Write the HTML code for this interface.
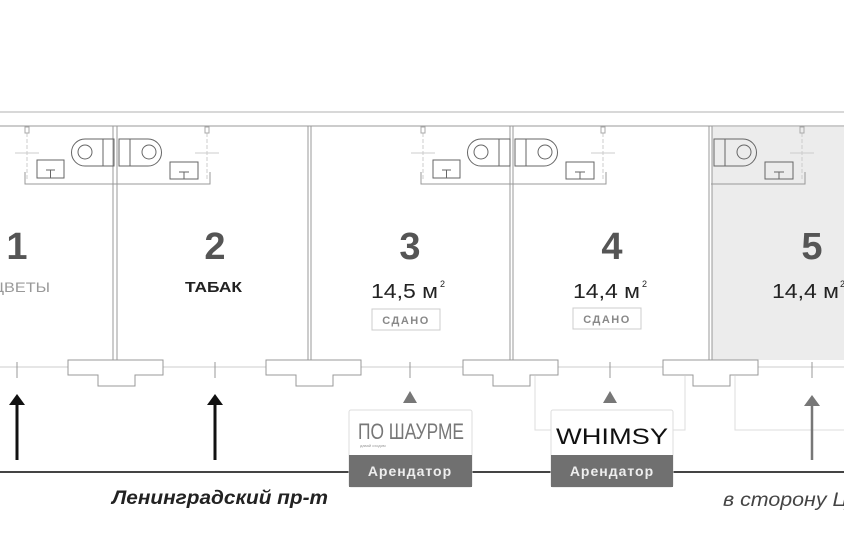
<!DOCTYPE html>
<html><head><meta charset="utf-8"><style>
html,body{margin:0;padding:0;background:#fff;}
svg{display:block;font-family:"Liberation Sans",sans-serif;}
</style></head><body>
<svg width="844" height="553" viewBox="0 0 844 553" xmlns="http://www.w3.org/2000/svg">
<defs>
<g id="fix" fill="none" stroke="#666" stroke-width="1">
  <line x1="-88" y1="133" x2="-88" y2="180" stroke="#ccc" stroke-dasharray="4 2"/>
  <line x1="92" y1="133" x2="92" y2="180" stroke="#ccc" stroke-dasharray="4 2"/>
  <rect x="-90" y="127" width="4" height="6" stroke="#aaa"/>
  <rect x="90" y="127" width="4" height="6" stroke="#aaa"/>
  <line x1="-100" y1="153" x2="-76" y2="153" stroke="#ccc"/>
  <line x1="80" y1="153" x2="104" y2="153" stroke="#ccc"/>
  <path d="M-1 139 H-30 A13 13 0 0 0 -30 166 H-1 Z"/>
  <line x1="-12" y1="139" x2="-12" y2="166"/>
  <circle cx="-30" cy="152" r="7"/>
  <path d="M4 139 H33 A13 13 0 0 1 33 166 H4 Z"/>
  <line x1="15" y1="139" x2="15" y2="166"/>
  <circle cx="34" cy="152" r="7"/>
  <rect x="-78" y="160" width="27" height="18"/>
  <path d="M-69 170 H-60 M-64.5 170 V178"/>
  <rect x="55" y="162" width="28" height="17"/>
  <path d="M64 172 H74 M69 172 V179"/>
  <path d="M-90 172 V184 H95 V172" stroke="#999"/>
</g>
<g id="door" fill="#fff" stroke="#999" stroke-width="1">
  <path d="M-47 360 H48 V375 H20 V386 H-17 V375 H-47 Z"/>
</g>
<clipPath id="c5"><rect x="711" y="0" width="133" height="553"/></clipPath>
</defs>
<line x1="0" y1="112" x2="844" y2="112" stroke="#ccc" stroke-width="1.5"/>
<rect x="712" y="127" width="132" height="233" fill="#ececec"/>
<line x1="0" y1="126" x2="844" y2="126" stroke="#999" stroke-width="1"/>
<g stroke="#999" stroke-width="1">
  <line x1="113" y1="126" x2="113" y2="362"/><line x1="117" y1="126" x2="117" y2="362"/>
  <line x1="308" y1="126" x2="308" y2="362"/><line x1="311" y1="126" x2="311" y2="362"/>
  <line x1="510" y1="126" x2="510" y2="362"/><line x1="513" y1="126" x2="513" y2="362"/>
  <line x1="709" y1="126" x2="709" y2="362"/><line x1="712" y1="126" x2="712" y2="362"/>
</g>
<use href="#fix" x="115" y="0"/>
<use href="#fix" x="511" y="0"/>
<g clip-path="url(#c5)"><use href="#fix" x="710" y="0"/></g>
<line x1="0" y1="367" x2="844" y2="367" stroke="#ccc" stroke-width="1"/>
<path d="M535 376 V430 H685 V376" fill="none" stroke="#ddd"/>
<path d="M735 376 V430 H844" fill="none" stroke="#ddd"/>
<use href="#door" x="115"/><use href="#door" x="313"/><use href="#door" x="510"/><use href="#door" x="710"/>
<g stroke="#999"><line x1="17" y1="362" x2="17" y2="378"/><line x1="215" y1="362" x2="215" y2="378"/><line x1="410" y1="362" x2="410" y2="378"/><line x1="610" y1="362" x2="610" y2="378"/><line x1="812" y1="362" x2="812" y2="378"/></g>
<g fill="#111" stroke="#111">
  <line x1="17" y1="403" x2="17" y2="460" stroke-width="3"/><path d="M9 405 L17 394 L25 405 Z" stroke="none"/>
  <line x1="215" y1="403" x2="215" y2="460" stroke-width="3"/><path d="M207 405 L215 394 L223 405 Z" stroke="none"/>
</g>
<g fill="#777" stroke="#777">
  <line x1="812" y1="403" x2="812" y2="460" stroke-width="2.5"/><path d="M804 406 L812 395 L820 406 Z" stroke="none"/>
  <path d="M403 403 L410 391 L417 403 Z" stroke="none"/>
  <path d="M603 403 L610 391 L617 403 Z" stroke="none"/>
</g>
<line x1="0" y1="472" x2="844" y2="472" stroke="#444" stroke-width="2"/>
<rect x="349" y="410" width="123" height="77" rx="2" fill="#fff" stroke="#ddd"/>
<rect x="349" y="455" width="123" height="32" fill="#707070"/>
<text x="358" y="439" font-size="22" fill="#777" textLength="106" lengthAdjust="spacingAndGlyphs">ПО ШАУРМЕ</text>
<text x="360" y="447" font-size="4" fill="#999">давай сходим</text>
<text x="410" y="476" text-anchor="middle" font-size="14" font-weight="bold" fill="#eee" letter-spacing="1">Арендатор</text>
<rect x="551" y="410" width="122" height="77" rx="2" fill="#fff" stroke="#ddd"/>
<rect x="551" y="455" width="122" height="32" fill="#707070"/>
<text x="556" y="444" font-size="22" fill="#111" textLength="112" lengthAdjust="spacingAndGlyphs">WHIMSY</text>
<text x="612" y="476" text-anchor="middle" font-size="14" font-weight="bold" fill="#eee" letter-spacing="1">Арендатор</text>
<g font-weight="bold" font-size="38" fill="#555" text-anchor="middle">
  <text x="17" y="259">1</text><text x="215" y="259">2</text><text x="410" y="259">3</text><text x="612" y="259">4</text><text x="812" y="259">5</text>
</g>
<text x="-8" y="292" font-size="14" fill="#999" textLength="58" lengthAdjust="spacingAndGlyphs">ЦВЕТЫ</text>
<text x="185" y="292" font-size="15" font-weight="bold" fill="#222" textLength="57" lengthAdjust="spacingAndGlyphs">ТАБАК</text>
<g font-size="20" fill="#222">
  <text x="371" y="298" textLength="67" lengthAdjust="spacingAndGlyphs">14,5 м</text>
  <text x="573" y="298" textLength="67" lengthAdjust="spacingAndGlyphs">14,4 м</text>
  <text x="772" y="298" textLength="67" lengthAdjust="spacingAndGlyphs">14,4 м</text>
</g>
<g font-size="9" fill="#222"><text x="440" y="287">2</text><text x="642" y="287">2</text><text x="840" y="287">2</text></g>
<rect x="372" y="309" width="68" height="21" fill="#fff" stroke="#ccc"/>
<text x="406" y="324" text-anchor="middle" font-size="11" font-weight="bold" fill="#888" letter-spacing="1.5">СДАНО</text>
<rect x="573" y="308" width="68" height="21" fill="#fff" stroke="#ccc"/>
<text x="607" y="323" text-anchor="middle" font-size="11" font-weight="bold" fill="#888" letter-spacing="1.5">СДАНО</text>
<text x="112" y="504" font-size="19" font-weight="bold" font-style="italic" fill="#222" textLength="216" lengthAdjust="spacingAndGlyphs">Ленинградский пр-т</text>
<text x="723" y="506" font-size="19" font-style="italic" fill="#444" textLength="125" lengthAdjust="spacingAndGlyphs">в сторону Ц</text>
</svg>
</body></html>
